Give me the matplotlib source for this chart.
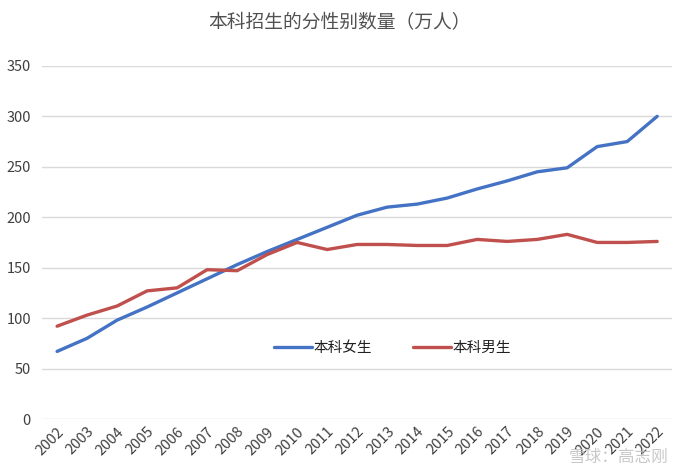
import matplotlib
matplotlib.use("Agg")
import matplotlib.pyplot as plt
import numpy as np

plt.rcParams["font.family"] = ["Noto Sans CJK SC", "DejaVu Sans"]

# ── Data (万人) ───────────────────────────────────────────────────────────────
years = [str(y) for y in range(2002, 2023)]
female = [67, 80, 98, 111, 125, 139, 153, 166, 178, 190, 202, 210, 213, 219,
          228, 236, 245, 249, 270, 275, 300]
male = [92, 103, 112, 127, 130, 148, 147, 163, 175, 168, 173, 173, 172, 172,
        178, 176, 178, 183, 175, 175, 176]

BLUE = "#4472C4"
RED = "#C0504D"
TEXT = "#404040"

fig = plt.figure(figsize=(6.79, 4.74), dpi=100)
ax = fig.add_axes([0.062, 0.116, 0.928, 0.745])

x = np.arange(len(years))
ax.plot(x, female, color=BLUE, linewidth=2.4, solid_capstyle="round",
        label="本科女生")
ax.plot(x, male, color=RED, linewidth=2.4, solid_capstyle="round",
        label="本科男生")

ax.set_xlim(-0.5, len(years) - 0.5)
ax.set_ylim(0, 350)
ax.set_yticks(range(0, 351, 50))
ax.set_xticks(x)
ax.set_xticklabels(years, rotation=45, ha="right", va="top",
                   rotation_mode="anchor", fontsize=10.5, color=TEXT)
ax.tick_params(axis="y", labelsize=10.5, labelcolor=TEXT, length=0, pad=8)
ax.tick_params(axis="x", length=0, pad=4)

ax.grid(True, axis="y", color="#D9D9D9", linewidth=1)
ax.set_axisbelow(True)
for s in ax.spines.values():
    s.set_visible(False)

leg = ax.legend(loc="center", bbox_to_anchor=(0.556, 0.20), ncol=2,
                frameon=False, fontsize=10.5, handlelength=2.6,
                handletextpad=0.1, columnspacing=2.8)
for t in leg.get_texts():
    t.set_color("#202020")

fig.text(0.5, 0.952, "本科招生的分性别数量（万人）", ha="center", va="center",
         fontsize=13.5, color="#505050")

# watermark
fig.text(0.985, 0.035, "雪球：高志刚", ha="right", va="center",
         fontsize=12, color="#BBBBBB", alpha=0.8)

fig.savefig("out.png", dpi=100)
